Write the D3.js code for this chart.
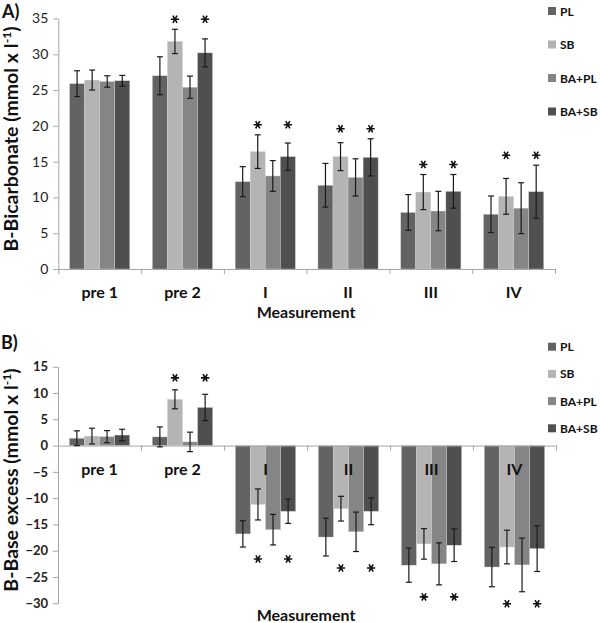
<!DOCTYPE html>
<html><head><meta charset="utf-8">
<script src="https://cdn.jsdelivr.net/npm/d3@7"></script>
<style>body{margin:0;background:#fff}svg{display:block}</style>
</head><body>
<svg id="c" width="600" height="623"></svg>
<script>
const categories = ["pre 1","pre 2","I","II","III","IV"];
const series = ["PL","SB","BA+PL","BA+SB"];
const colors = ["#636363","#b4b4b4","#858585","#4f4f4f"];

// A) B-Bicarbonate
const bicarbPL      = [25.9, 27.0, 12.2, 11.7, 7.9, 7.65];
const bicarbPLErr   = [1.8, 2.65, 2.1, 3.05, 2.5, 2.55];
const bicarbSB      = [26.4, 31.8, 16.4, 15.7, 10.75, 10.15];
const bicarbSBErr   = [1.4, 1.7, 2.35, 1.95, 2.45, 2.5];
const bicarbBAPL    = [26.2, 25.4, 13.0, 12.8, 8.1, 8.5];
const bicarbBAPLErr = [0.8, 1.55, 2.15, 2.6, 2.75, 3.55];
const bicarbBASB    = [26.3, 30.2, 15.7, 15.6, 10.85, 10.8];
const bicarbBASBErr = [0.75, 1.95, 1.9, 2.6, 2.35, 3.7];
const bicarbTicks   = [0,5,10,15,20,25,30,35];

// B) B-Base excess
const beePL      = [1.4, 1.65, -16.8, -17.4, -22.75, -23.1];
const beePLErr   = [1.4, 1.9, 2.5, 3.6, 3.25, 3.75];
const beeSB      = [1.8, 8.8, -11.2, -12.0, -18.7, -19.3];
const beeSBErr   = [1.5, 1.8, 2.95, 2.35, 2.9, 3.2];
const beeBAPL    = [1.7, 0.7, -16.0, -16.4, -22.5, -22.7];
const beeBAPLErr = [1.15, 1.85, 2.9, 3.75, 4.0, 5.1];
const beeBASB    = [2.0, 7.25, -12.5, -12.5, -18.95, -19.6];
const beeBASBErr = [1.1, 2.5, 2.3, 2.55, 3.1, 4.35];
const beeTicks   = [-30,-25,-20,-15,-10,-5,0,5,10,15];

// significance markers (per series, per category)
const sigPL   = [false,false,false,false,false,false];
const sigSB   = [false,true,true,true,true,true];
const sigBAPL = [false,false,false,false,false,false];
const sigBASB = [false,true,true,true,true,true];

const FONT = "Lato, 'Open Sans', sans-serif";
const svg = d3.select("#c");
const AXC = "#a6a6a6";

function chart(opt){
  const g = svg.append("g");
  const x0 = d3.scaleBand().domain(categories).range([opt.left, opt.right]);
  const bw = x0.bandwidth();
  const x1 = d3.scaleBand().domain(series).range([bw*0.75/5.5, bw*4.75/5.5]);
  const y = d3.scaleLinear().domain(opt.domain).range([opt.bottom, opt.top]);
  const xl = d3.scaleLinear().domain([0, categories.length]).range([opt.left, opt.right]);

  const rows = [];
  series.forEach((s,si)=>{
    categories.forEach((c,ci)=>{
      rows.push({s, si, c, ci, v: opt.vals[si][ci], e: opt.errs[si][ci], sig: opt.sigs[si][ci]});
    });
  });

  // bars
  g.selectAll("rect.bar").data(rows).join("rect")
    .attr("x", d=>x0(d.c)+x1(d.s))
    .attr("width", x1.bandwidth())
    .attr("y", d=>y(Math.max(0,d.v)))
    .attr("height", d=>Math.abs(y(d.v)-y(0)))
    .attr("fill", d=>colors[d.si])
    .attr("stroke","#d8d8d8").attr("stroke-width",0.4);

  // y axis
  const ya = g.append("g").attr("transform",`translate(${opt.left},0)`)
    .call(d3.axisLeft(y).tickValues(opt.ticks).tickSize(5).tickSizeOuter(0).tickPadding(5));
  ya.select(".domain").attr("stroke",AXC);
  ya.selectAll(".tick line").attr("stroke",AXC);
  ya.selectAll(".tick text").attr("font-family",FONT).attr("font-size",opt.tickFS)
    .attr("font-weight",opt.tickFW).attr("fill","#222");

  // x axis at zero
  const xa = g.append("g").attr("transform",`translate(0,${y(0)})`)
    .call(d3.axisBottom(xl).tickValues(d3.range(0,categories.length+1)).tickSize(5).tickSizeOuter(0).tickFormat(""));
  xa.select(".domain").attr("stroke",AXC);
  xa.selectAll(".tick line").attr("stroke",AXC);

  // error bars
  const eb = g.selectAll("g.err").data(rows).join("g");
  const cx = d=>x0(d.c)+x1(d.s)+x1.bandwidth()/2;
  eb.append("line").attr("x1",cx).attr("x2",cx)
    .attr("y1",d=>y(d.v+d.e)).attr("y2",d=>y(d.v-d.e));
  eb.append("line").attr("x1",d=>cx(d)-3).attr("x2",d=>cx(d)+3)
    .attr("y1",d=>y(d.v+d.e)).attr("y2",d=>y(d.v+d.e));
  eb.append("line").attr("x1",d=>cx(d)-3).attr("x2",d=>cx(d)+3)
    .attr("y1",d=>y(d.v-d.e)).attr("y2",d=>y(d.v-d.e));
  eb.selectAll("line").attr("stroke","#1a1a1a").attr("stroke-width",1.2);

  // stars (significance)
  const groupExt = {};
  categories.forEach((c,ci)=>{
    const gr = rows.filter(r=>r.ci===ci);
    const pos = gr.some(r=>r.sig && r.v>0);
    groupExt[c] = pos ? y(d3.max(gr, r=>r.v+r.e)) - opt.starGap
                      : y(d3.min(gr, r=>r.v-r.e)) + opt.starGap;
  });
  const star = d3.symbol(d3.symbolAsterisk, 48);
  g.selectAll("path.star").data(rows.filter(r=>r.sig)).join("path")
    .attr("class","star")
    .attr("transform", d=>`translate(${cx(d)},${groupExt[d.c]}) rotate(90)`)
    .attr("d", star).attr("fill","none").attr("stroke","#111").attr("stroke-width",1.6);

  // category labels
  g.selectAll("text.cat").data(categories).join("text")
    .attr("x", c=>x0(c)+bw/2).attr("y", opt.catY)
    .attr("text-anchor","middle").attr("dominant-baseline","central")
    .attr("font-family",FONT).attr("font-weight",700).attr("font-size",16).attr("fill","#111")
    .text(c=>c);

  // x title
  g.append("text").attr("x",306).attr("y",opt.xTitleY)
    .attr("text-anchor","middle").attr("dominant-baseline","central")
    .attr("font-family",FONT).attr("font-weight",700).attr("font-size",16).attr("fill","#111")
    .text("Measurement");

  // y title
  const yt = g.append("text")
    .attr("transform",`translate(${opt.yTitleX},${opt.yTitleY}) rotate(-90)`)
    .attr("text-anchor","middle")
    .attr("font-family",FONT).attr("font-weight",700).attr("font-size",opt.yTitleFS).attr("fill","#111");
  yt.append("tspan").text(opt.yTitle + " (mmol x l");
  yt.append("tspan").attr("dy",-opt.yTitleFS*0.35).attr("font-size",opt.yTitleFS*0.62).text("-1");
  yt.append("tspan").attr("dy",opt.yTitleFS*0.35).text(")");

  // panel label
  g.append("text").attr("x",opt.panelX).attr("y",opt.panelY)
    .attr("dominant-baseline","central")
    .attr("font-family",FONT).attr("font-weight",700).attr("font-size",18).attr("fill","#111")
    .text(opt.panel);

  // legend
  const lg = g.selectAll("g.leg").data(series).join("g")
    .attr("transform",(s,i)=>`translate(548,${opt.legY + i*opt.legStep})`);
  lg.append("rect").attr("x",0).attr("y",-4).attr("width",8).attr("height",8)
    .attr("fill",(s,i)=>colors[i]);
  lg.append("text").attr("x",12).attr("y",0).attr("dominant-baseline","central")
    .attr("font-family",FONT).attr("font-weight",700).attr("font-size",12).attr("fill","#111")
    .text(s=>s);
}

chart({
  left:58.3, right:555, top:18.5, bottom:269, domain:[0,35], ticks:bicarbTicks,
  vals:[bicarbPL,bicarbSB,bicarbBAPL,bicarbBASB],
  errs:[bicarbPLErr,bicarbSBErr,bicarbBAPLErr,bicarbBASBErr],
  sigs:[sigPL,sigSB,sigBAPL,sigBASB],
  tickFS:14, tickFW:400, starGap:10,
  catY:291.5, xTitleY:311,
  yTitle:"B-Bicarbonate", yTitleX:18, yTitleY:139, yTitleFS:19.5,
  panel:"A)", panelX:2, panelY:11,
  legY:11, legStep:33.5
});

chart({
  left:58, right:556, top:366.7, bottom:603.3, domain:[-30,15], ticks:beeTicks,
  vals:[beePL,beeSB,beeBAPL,beeBASB],
  errs:[beePLErr,beeSBErr,beeBAPLErr,beeBASBErr],
  sigs:[sigPL,sigSB,sigBAPL,sigBASB],
  tickFS:13, tickFW:700, starGap:12,
  catY:468, xTitleY:614,
  yTitle:"B-Base excess", yTitleX:18, yTitleY:480, yTitleFS:19.5,
  panel:"B)", panelX:1, panelY:342,
  legY:346.7, legStep:27.2
});
</script>
</body></html>
